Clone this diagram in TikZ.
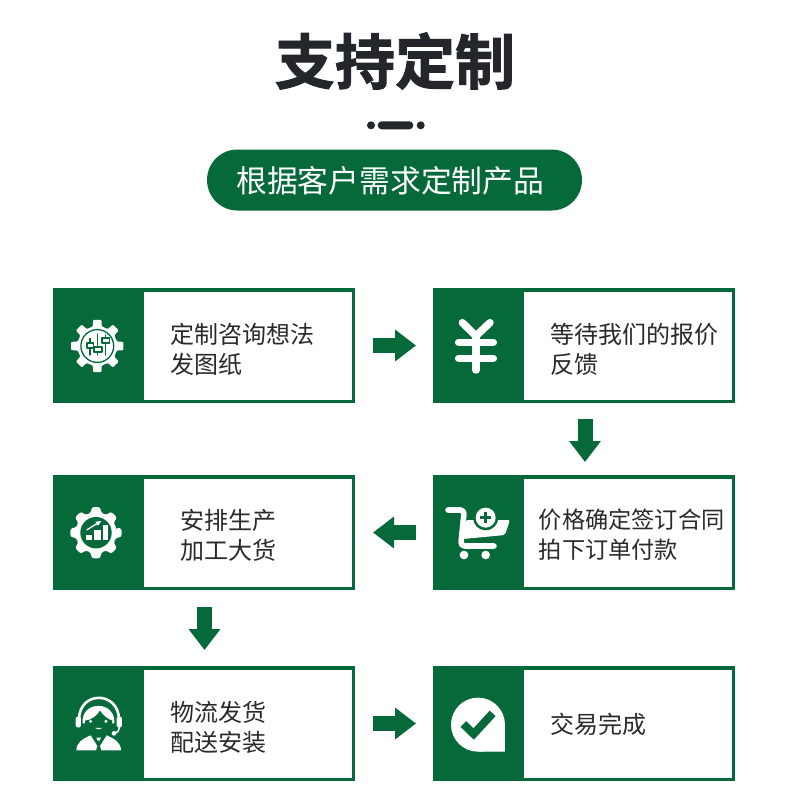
\documentclass[tikz,border=0pt]{standalone}
\usepackage{fontspec}
\setmainfont{Noto Sans CJK SC}
\newfontfamily\titlefont[FakeBold=1.6]{Noto Sans CJK SC Bold}
\usetikzlibrary{arrows.meta}
\definecolor{brandgreen}{HTML}{05693A}
\definecolor{inkdark}{HTML}{23262B}
\definecolor{bodyink}{HTML}{2A2A2A}
\tikzset{
  x=1pt,y=-1pt,
  stepframe/.style={draw=brandgreen,line width=3.5pt,fill=white,minimum width=298.5pt,minimum height=111.5pt,inner sep=0pt},
  panel/.style={fill=brandgreen,minimum width=91pt,minimum height=115pt,inner sep=0pt,outer sep=0pt},
  steptext/.style={anchor=west,align=left,inner sep=0pt,text=bodyink,font=\fontsize{24}{30}\selectfont},
  blockarrow/.style={draw=brandgreen,line width=15pt,-{Triangle[length=21pt,width=30.5pt,fill=brandgreen]}},
  iconat/.style 2 args={shift={(#1,#2)},x=0.3333pt,y=-0.3333pt},
  greenline/.style={draw=brandgreen,line cap=round,line join=round},
  whiteline/.style={draw=white,line cap=round,line join=round}
}
\begin{document}
\begin{tikzpicture}
\useasboundingbox (0,0) rectangle (790,809);
\fill[white] (0,0) rectangle (790,809);

% header
\node (title) at (395,61) [text=inkdark,inner sep=0pt,font=\titlefont\fontsize{60}{60}\selectfont] {支持定制};
\fill[inkdark] (371,125.3) circle[radius=4];
\fill[inkdark] (420.7,125.3) circle[radius=4];
\fill[inkdark,rounded corners=3.9pt] (377.7,121.3) rectangle (413.3,129.3);
\node (pill) at (394.5,180) [fill=brandgreen,rounded corners=30.5pt,minimum width=375pt,minimum height=61pt,inner sep=0pt] {};
\node (pilltext) at (390.3,181) [inner sep=0pt,text=white,font=\fontsize{30.8}{31}\selectfont] {根据客户需求定制产品};

% frames
\node[stepframe] (s1) at (204,345.5) {};
\node[stepframe] (s2) at (584,345.5) {};
\node[stepframe] (s3) at (584,532.5) {};
\node[stepframe] (s4) at (204,532.5) {};
\node[stepframe] (s5) at (204,723.5) {};
\node[stepframe] (s6) at (584,723.5) {};

% panels
\node[panel] (p1) at (98.5,345.5) {};
\node[panel] (p2) at (478.5,345.5) {};
\node[panel] (p3) at (478.5,532.5) {};
\node[panel] (p4) at (98.5,532.5) {};
\node[panel] (p5) at (98.5,723.5) {};
\node[panel] (p6) at (478.5,723.5) {};

% texts
\node[steptext] (t1) at (170.3,349) {定制咨询想法\\发图纸};
\node[steptext] (t2) at (549.8,349) {等待我们的报价\\反馈};
\node[steptext,font=\fontsize{23.2}{30}\selectfont] (t3) at (538.6,535) {价格确定签订合同\\拍下订单付款};
\node[steptext] (t4) at (180.5,535) {安排生产\\加工大货};
\node[steptext] (t5) at (170.3,727) {物流发货\\配送安装};
\node[steptext] (t6) at (550.3,724) {交易完成};

% connectors
\draw[blockarrow,shorten <=18pt,shorten >=17pt] (s1) -- (s2);
\draw[blockarrow,shorten <=16pt,shorten >=13pt] ([xshift=1pt]s2.south) -- ([xshift=1pt]s3.north);
\draw[blockarrow,shorten <=17pt,shorten >=18pt] (s3) -- (s4);
\draw[blockarrow,shorten <=17pt,shorten >=16pt] ([xshift=.5pt]s4.south) -- ([xshift=.5pt]s5.north);
\draw[blockarrow,shorten <=18pt,shorten >=17pt] (s5) -- (s6);

% icon 1: gear with circuit
\begin{scope}[shift={(97.3,346)}]
  \fill[white,rounded corners=1pt] (-13:20) \foreach \a in {0,45,...,315} { -- ({\a-13}:20) -- ({\a-9}:26.5) -- ({\a+9}:26.5) -- ({\a+13}:20)} -- cycle;
  \draw[brandgreen,line width=1.3pt] (0,0) circle[radius=16.4];
  \begin{scope}[greenline,line width=1.4pt]
    \draw (-7.3,-7.5) -- (-7.3,-3);
    \draw (-7.3,2) -- (-7.3,9);
    \draw (-10.5,-3) rectangle (-4,2);
    \draw (0.3,-12) -- (0.3,1);
    \draw (0.3,6) -- (0.3,9);
    \draw (-3.5,1) rectangle (4.5,6);
    \draw (8.3,-11) -- (8.3,-8);
    \draw (8.3,-3) -- (8.3,9);
    \draw (4.5,-8) rectangle (12,-3);
  \end{scope}
\end{scope}

% icon 2: yen
\begin{scope}[iconat={360}{280}]
  \draw[whiteline,line width=7.5pt] (307,128) -- (348,168) -- (390,128);
  \draw[whiteline,line width=7.5pt] (348,168) -- (348,270);
  \draw[whiteline,line width=7.5pt] (296,187) -- (400,187);
  \draw[whiteline,line width=7.5pt] (296,235) -- (400,235);
\end{scope}

% icon 3: cart
\begin{scope}[iconat={420}{470}]
  \fill[white,rounded corners=2pt] (136,150) -- (270,150) -- (255,195) -- (130,207) -- cycle;
  \draw[whiteline,line width=5.6pt,rounded corners=4pt] (84,120) -- (133,120) -- (122,228) -- (222,228);
  \fill[white] (132,255) circle[radius=13];
  \fill[white] (197,255) circle[radius=13];
  \fill[brandgreen] (197,143) circle[radius=38];
  \fill[white] (197,143) circle[radius=30];
  \draw[brandgreen,line width=3pt] (180,143) -- (214,143);
  \draw[brandgreen,line width=3pt] (197,126) -- (197,160);
\end{scope}

% icon 4: gear with chart
\begin{scope}[shift={(96,532.7)}]
  \fill[white,rounded corners=2.6pt] (-13:20.5) \foreach \a in {0,45,...,315} { -- ({\a-14}:20.5) -- ({\a-10}:26) -- ({\a+10}:26) -- ({\a+14}:20.5)} -- cycle;
  \fill[brandgreen] (0,0) circle[radius=15.7];
\end{scope}
\begin{scope}[iconat={40}{470}]
  \fill[white] (138,195) rectangle (155,210);
  \fill[white] (163,181) rectangle (182,210);
  \fill[white] (188,166) rectangle (205,210);
  \draw[white,line width=1.3pt] (140,180) -- (172,160);
  \fill[white] (184,153) -- (166,155) -- (174,167) -- cycle;
\end{scope}

% icon 5: agent
\begin{scope}[iconat={40}{660}]
  \draw[white,line width=2.6pt] (117,178) .. controls (118,92) and (235,92) .. (237,178);
  \fill[white,rounded corners=1.5pt] (107,170) rectangle (123,202);
  \fill[white,rounded corners=1.5pt] (230,170) rectangle (246,202);
  \draw[white,line width=1.6pt] (238,200) .. controls (238,212) and (232,218) .. (222,220);
  \fill[white] (222,220) circle[radius=7];
  \fill[white] (128,190) .. controls (122,120) and (228,120) .. (223,190) -- cycle;
  \fill[brandgreen] (135,182) .. controls (155,180) and (170,168) .. (180,152) .. controls (190,168) and (205,178) .. (217,182) .. controls (217,208) and (198,226) .. (176,226) .. controls (153,226) and (135,208) .. (135,182) -- cycle;
  \fill[white] (152,184) circle[radius=5];
  \fill[white] (198,184) circle[radius=5];
  \fill[white] (165,204) .. controls (172,210) and (180,210) .. (187,204) .. controls (180,203) and (172,203) .. (165,204) -- cycle;
  \fill[white] (109,271) .. controls (110,248) and (125,238) .. (152,226) -- (172,258) -- (168,271) -- cycle;
  \fill[white] (243,271) .. controls (242,248) and (227,238) .. (200,226) -- (180,258) -- (184,271) -- cycle;
  \fill[white] (169,233) -- (183,233) -- (179,242) -- (173,242) -- cycle;
\end{scope}

% icon 6: check bubble
\begin{scope}[iconat={360}{660}]
  \fill[white] (435,275) -- (354,275) arc[start angle=90,end angle=450,radius=81] -- cycle;
  \fill[white] (354,275) -- (435,275) -- (435,195) -- cycle;
  \draw[brandgreen,line width=8pt] (310,192) -- (341,222) -- (398,160);
\end{scope}
\end{tikzpicture}
\end{document}
